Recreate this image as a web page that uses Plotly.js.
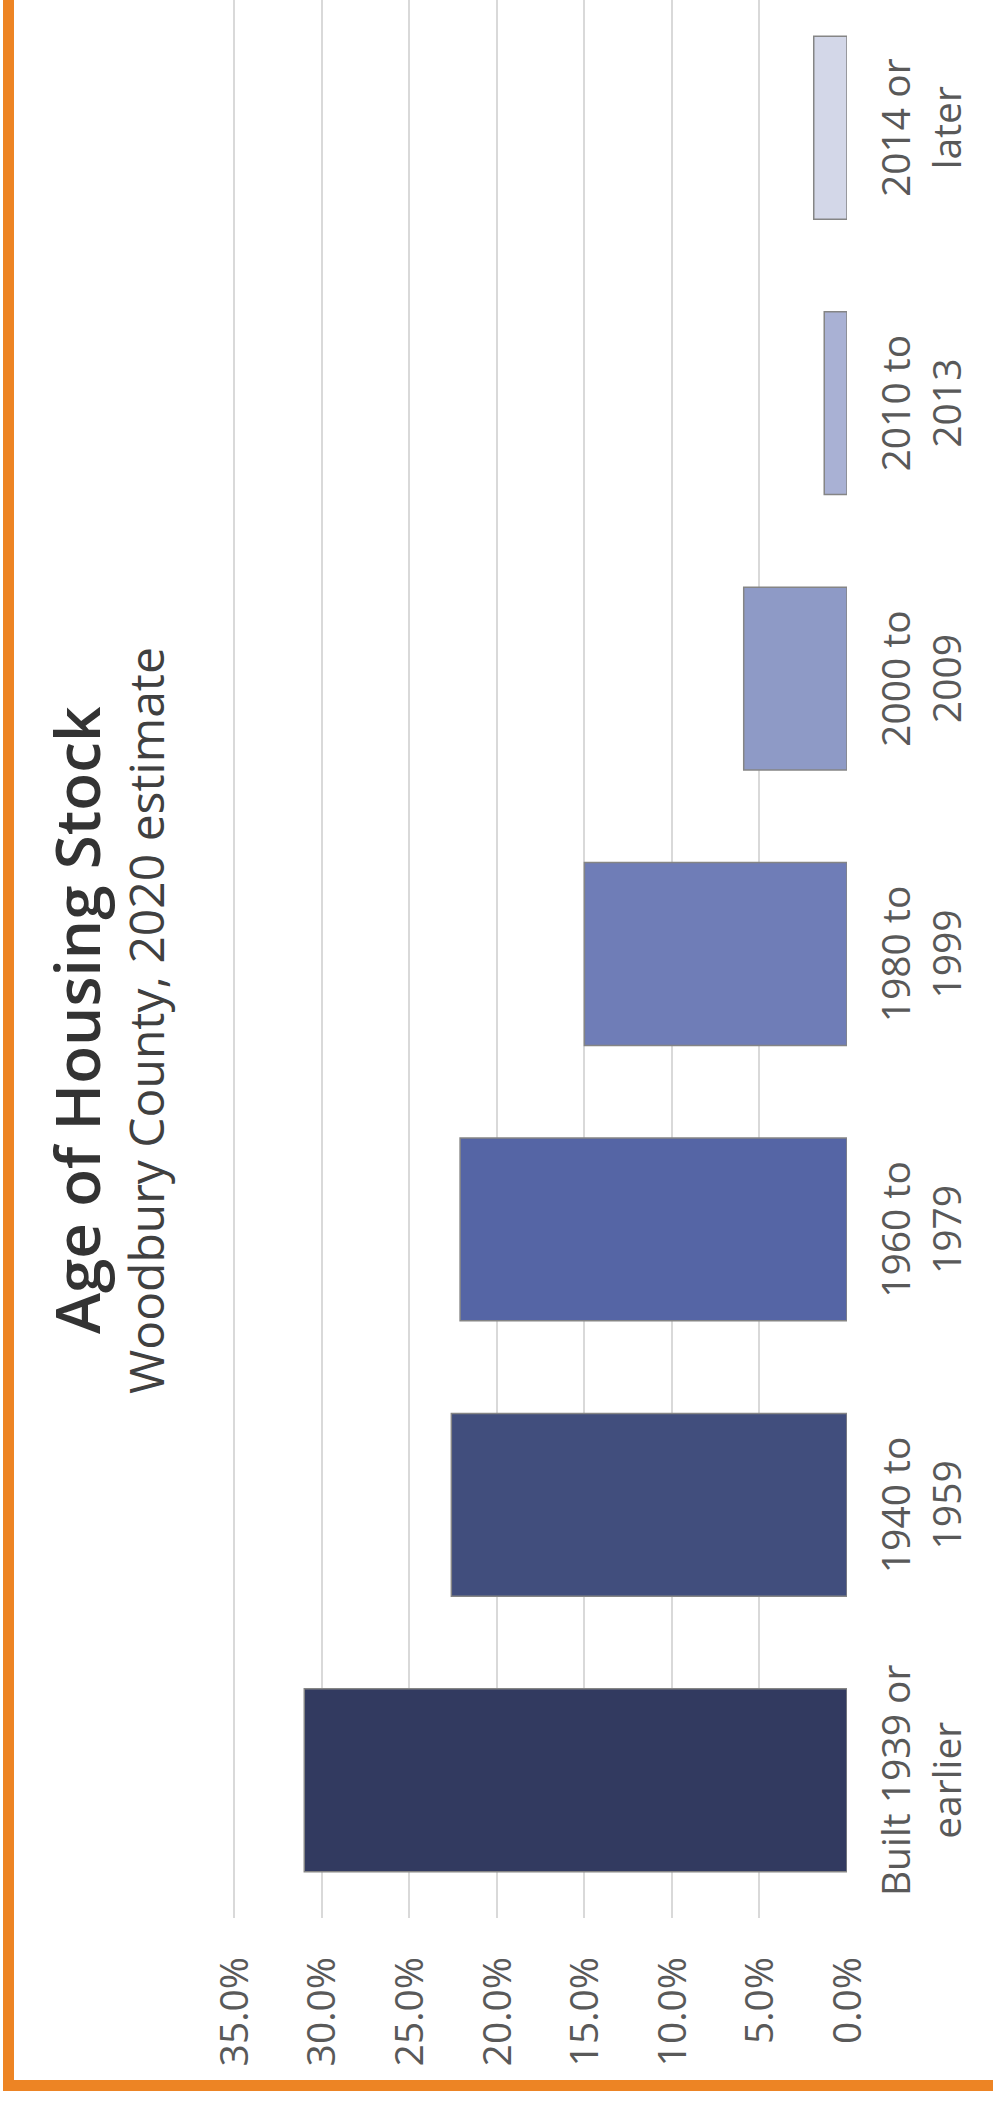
<!DOCTYPE html>
<html>
<head>
<meta charset="utf-8">
<script src="https://cdn.plot.ly/plotly-3.0.1.min.js"></script>
<style>
  html, body { margin: 0; padding: 0; overflow: hidden; background: #ffffff; width: 993px; height: 2110px; }
  #wrap { position: absolute; left: 0; top: 0; width: 2150px; height: 993px;
          transform-origin: 0 0; transform: translate(0px, 2110px) rotate(-90deg); }
  #chart { position: absolute; left: 0; top: 0; width: 2150px; height: 993px; }
  #frame { position: absolute; left: 19px; top: 3px; width: 2200px; height: 1100px;
           border: 11px solid #ED8424; box-sizing: border-box; pointer-events: none; }
</style>
</head>
<body>
<div id="wrap">
  <div id="chart"></div>
  <div id="frame"></div>
</div>
<script>
// ---- data ----
const categories = ['Built 1939 or<br>earlier', '1940 to<br>1959', '1960 to<br>1979', '1980 to<br>1999', '2000 to<br>2009', '2010 to<br>2013', '2014 or<br>later'];
const shares = [0.310, 0.226, 0.221, 0.150, 0.059, 0.013, 0.019];
const yTicks = [0, 0.05, 0.10, 0.15, 0.20, 0.25, 0.30, 0.35];
const titleText = 'Age of Housing Stock';
const subtitleText = 'Woodbury County, 2020 estimate';

// ---- style ----
const barColors = ['#323A60', '#414E7D', '#5565A5', '#6F7DB7', '#8E9AC6', '#A9B1D4', '#D3D7E8'];
const W = 2150, H = 993;
const yMax = 0.353;                       // a little headroom so the 35% gridline is drawn
const pxPerUnit = 613.1 / 0.35;           // 0% at v=847.4, 35% at v=234.3
const mL = 191.75, mR = W - 2120.25, mB = H - 847.4;
const mT = 847.4 - pxPerUnit * yMax;
const pw = W - mL - mR, ph = H - mT - mB;
const px = u => (u - mL) / pw;
const py = v => (H - mB - v) / ph;

const trace = {
  type: 'bar',
  x: categories,
  y: shares,
  marker: { color: barColors, line: { color: '#858585', width: 1.5 } },
  hoverinfo: 'none'
};

const layout = {
  width: W, height: H,
  margin: { l: mL, r: mR, t: mT, b: mB, pad: 0 },
  paper_bgcolor: '#ffffff',
  plot_bgcolor: '#ffffff',
  showlegend: false,
  bargap: 0.336,
  font: { family: 'Open Sans, sans-serif', color: '#595959' },
  xaxis: {
    type: 'category',
    showgrid: false, showline: false, zeroline: false, ticks: '',
    tickfont: { size: 39, color: '#595959', family: 'Open Sans, sans-serif' },
    ticklabelstandoff: 23,
    tickangle: 0
  },
  yaxis: {
    range: [0, yMax],
    tickvals: yTicks,
    tickformat: '.1%',
    showgrid: true, gridcolor: '#D9D9D9', gridwidth: 2,
    zeroline: false, showline: false, ticks: '',
    tickfont: { size: 39, color: '#595959', family: 'Open Sans, sans-serif' },
    ticklabelstandoff: 38
  },
  annotations: [
    { text: titleText, xref: 'paper', yref: 'paper', x: px(1090), y: py(75.5),
      xanchor: 'center', yanchor: 'middle', showarrow: false,
      font: { size: 62, color: '#333333', family: 'Open Sans, sans-serif', weight: 600 } },
    { text: subtitleText, xref: 'paper', yref: 'paper', x: px(1089), y: py(145.5),
      xanchor: 'center', yanchor: 'middle', showarrow: false,
      font: { size: 48, color: '#404040', family: 'Open Sans, sans-serif' } }
  ]
};

Plotly.newPlot('chart', [trace], layout, { staticPlot: true, displayModeBar: false });
</script>
</body>
</html>
